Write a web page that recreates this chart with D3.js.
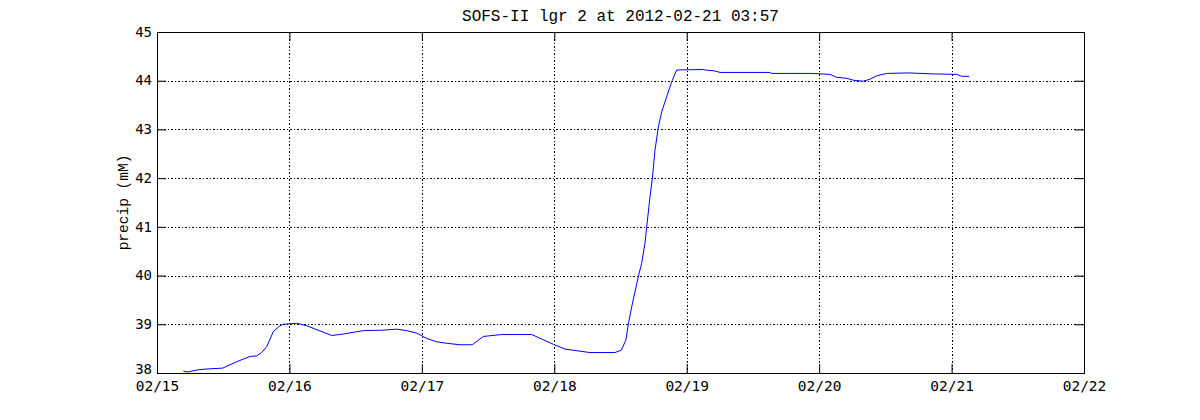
<!DOCTYPE html>
<html>
<head>
<meta charset="utf-8">
<script src="https://cdn.jsdelivr.net/npm/d3@7"></script>
<style>
  html, body { margin: 0; padding: 0; background: #fff; }
  svg { display: block; }
</style>
</head>
<body>
<svg id="chart" width="1200" height="420"></svg>
<script>
const titleText = "SOFS-II lgr 2 at 2012-02-21 03:57";
const yLabelText = "precip (mM)";

const times = [
  "2012-02-15 04:46","2012-02-15 05:34","2012-02-15 07:11","2012-02-15 08:42","2012-02-15 11:54",
  "2012-02-15 14:26","2012-02-15 16:51","2012-02-15 18:04","2012-02-15 18:58","2012-02-15 19:53",
  "2012-02-15 21:05","2012-02-15 22:17","2012-02-15 22:53","2012-02-16 01:19","2012-02-16 03:08",
  "2012-02-16 07:40","2012-02-16 09:46","2012-02-16 13:23","2012-02-16 17:01","2012-02-16 19:26",
  "2012-02-16 21:15","2012-02-16 23:04","2012-02-17 00:53","2012-02-17 02:41","2012-02-17 04:30",
  "2012-02-17 06:55","2012-02-17 09:08","2012-02-17 11:08","2012-02-17 14:28","2012-02-17 19:55",
  "2012-02-17 23:49","2012-02-18 01:56","2012-02-18 06:28","2012-02-18 11:00","2012-02-18 12:10",
  "2012-02-18 12:59","2012-02-18 13:25","2012-02-18 14:02","2012-02-18 15:14","2012-02-18 15:50",
  "2012-02-18 16:26","2012-02-18 16:45","2012-02-18 17:21","2012-02-18 17:46","2012-02-18 18:15",
  "2012-02-18 18:51","2012-02-18 19:28","2012-02-18 20:22","2012-02-18 21:17","2012-02-18 22:11",
  "2012-02-19 03:00","2012-02-19 03:19","2012-02-19 05:08","2012-02-19 06:02","2012-02-19 15:05",
  "2012-02-19 15:24","2012-02-19 22:39","2012-02-20 02:00","2012-02-20 03:11","2012-02-20 05:00",
  "2012-02-20 06:11","2012-02-20 08:00","2012-02-20 09:12","2012-02-20 10:25","2012-02-20 12:14",
  "2012-02-20 16:10","2012-02-20 20:41","2012-02-21 00:56","2012-02-21 01:50","2012-02-21 03:13"
];
const precip = [
  38.04,38.02,38.06,38.08,38.10,
  38.23,38.34,38.35,38.42,38.54,
  38.85,38.97,39.00,39.02,38.97,
  38.77,38.80,38.87,38.88,38.90,
  38.87,38.82,38.71,38.64,38.61,
  38.58,38.58,38.75,38.79,38.79,
  38.59,38.49,38.42,38.42,38.47,
  38.68,39.00,39.36,39.98,40.25,
  40.66,41.00,41.62,41.99,42.57,
  43.05,43.36,43.67,43.98,44.22,
  44.23,44.22,44.20,44.17,44.17,
  44.15,44.15,44.13,44.07,44.05,
  44.01,43.99,44.03,44.10,44.15,
  44.16,44.14,44.13,44.09,44.09
];
const xTickDates = ["2012-02-15","2012-02-16","2012-02-17","2012-02-18","2012-02-19","2012-02-20","2012-02-21","2012-02-22"];
const yTicks = [38, 39, 40, 41, 42, 43, 44, 45];
const xDomain = ["2012-02-15","2012-02-22"];
const yDomain = [38, 45];

const parseT = d3.utcParse("%Y-%m-%d %H:%M");
const parseD = d3.utcParse("%Y-%m-%d");
const fmt = d3.utcFormat("%m/%d");

const margin = {left: 157, right: 116, top: 32, bottom: 47};
const W = 1200, H = 420;
const iw = W - margin.left - margin.right;
const ih = H - margin.top - margin.bottom;

const svg = d3.select("#chart");
const g = svg.append("g").attr("transform", `translate(${margin.left},${margin.top})`);

const x = d3.scaleUtc().domain(xDomain.map(parseD)).range([0, iw]);
const y = d3.scaleLinear().domain(yDomain).range([ih, 0]);

const xt = xTickDates.map(parseD);
const tickLen = 9;
const dash = "2,2,1,2";

// grid
g.append("g").selectAll("line").data(xt.slice(1, -1)).join("line")
  .attr("x1", d => Math.round(x(d)) + 0.5).attr("x2", d => Math.round(x(d)) + 0.5)
  .attr("y1", 0).attr("y2", ih)
  .attr("stroke", "#000").attr("stroke-width", 1).attr("stroke-dasharray", dash);
g.append("g").selectAll("line").data(yTicks.slice(1, -1)).join("line")
  .attr("y1", d => Math.round(y(d)) + 0.5).attr("y2", d => Math.round(y(d)) + 0.5)
  .attr("x1", 0).attr("x2", iw)
  .attr("stroke", "#000").attr("stroke-width", 1).attr("stroke-dasharray", dash);

// axes (ticks inward)
const xAxisB = d3.axisBottom(x).tickValues(xt).tickFormat(fmt).tickSizeInner(-tickLen).tickSizeOuter(0).tickPadding(8);
const xAxisT = d3.axisTop(x).tickValues(xt).tickFormat("").tickSizeInner(-tickLen).tickSizeOuter(0);
const yAxisL = d3.axisLeft(y).tickValues(yTicks).tickFormat(d3.format("d")).tickSizeInner(-tickLen).tickSizeOuter(0).tickPadding(5);
const yAxisR = d3.axisRight(y).tickValues(yTicks).tickFormat("").tickSizeInner(-tickLen).tickSizeOuter(0);

function styleAxis(sel, size) {
  sel.select(".domain").remove();
  sel.selectAll("line").attr("stroke", "#000");
  sel.selectAll("text").attr("fill", "#000")
    .style("font-family", "'DejaVu Sans Mono', monospace").style("font-size", size || "14.5px");
}
g.append("g").attr("transform", `translate(0,${ih})`).call(xAxisB).call(styleAxis, "14.5px");
g.append("g").call(xAxisT).call(styleAxis);
const yl = g.append("g").call(yAxisL).call(styleAxis, "14px");
yl.selectAll("text").attr("dy", d => d === yDomain[0] ? "0.05em" : "0.3em");
g.append("g").attr("transform", `translate(${iw},0)`).call(yAxisR).call(styleAxis);

// box
g.append("rect").attr("x", 0.5).attr("y", 0.5).attr("width", iw).attr("height", ih)
  .attr("fill", "none").attr("stroke", "#000").attr("stroke-width", 1);

// line
const data = times.map((t, i) => ({t: parseT(t), v: precip[i]}));
g.append("path").datum(data)
  .attr("fill", "none").attr("stroke", "#0000ff").attr("stroke-width", 1)
  .attr("d", d3.line().x(d => x(d.t)).y(d => y(d.v)));

// title
svg.append("text").attr("x", margin.left + iw / 2).attr("y", 21)
  .attr("text-anchor", "middle")
  .style("font-family", "'Liberation Mono', monospace").style("font-size", "16px")
  .text(titleText);

// y label
svg.append("text")
  .attr("transform", `translate(128,${margin.top + ih / 2}) rotate(-90)`)
  .attr("text-anchor", "middle")
  .style("font-family", "'Liberation Mono', monospace").style("font-size", "14.5px")
  .text(yLabelText);
</script>
</body>
</html>
